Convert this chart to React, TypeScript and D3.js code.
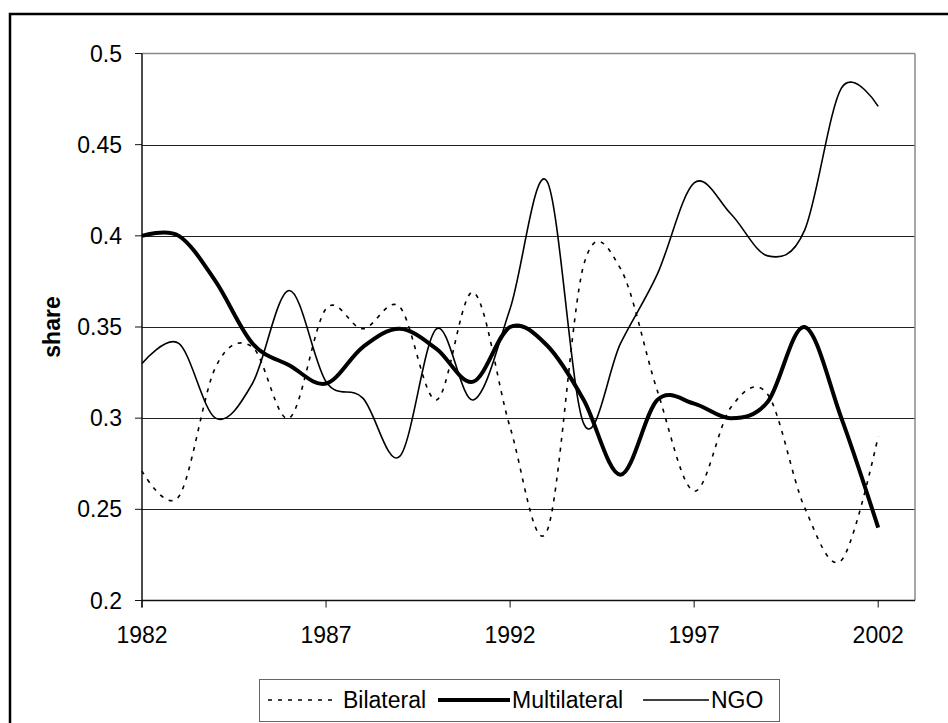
import React from "react";
import * as d3 from "d3";

const years = [
  1982, 1983, 1984, 1985, 1986, 1987, 1988, 1989, 1990, 1991, 1992, 1993,
  1994, 1995, 1996, 1997, 1998, 1999, 2000, 2001, 2002,
];
const bilateral = [
  0.271, 0.257, 0.328, 0.339, 0.3, 0.36, 0.349, 0.361, 0.31, 0.369, 0.295,
  0.238, 0.384, 0.382, 0.315, 0.26, 0.306, 0.313, 0.251, 0.222, 0.29,
];
const multilateral = [
  0.4, 0.4, 0.375, 0.341, 0.329, 0.319, 0.339, 0.349, 0.338, 0.32, 0.35,
  0.34, 0.31, 0.269, 0.31, 0.308, 0.3, 0.309, 0.35, 0.3, 0.24,
];
const ngo = [
  0.33, 0.341, 0.3, 0.319, 0.37, 0.32, 0.311, 0.279, 0.349, 0.31, 0.36, 0.43,
  0.297, 0.341, 0.379, 0.429, 0.412, 0.389, 0.403, 0.481, 0.471,
];
const xTicks = [1982, 1987, 1992, 1997, 2002];
const yTicks = [0.2, 0.25, 0.3, 0.35, 0.4, 0.45, 0.5];

const font = "'Liberation Sans', Arial, sans-serif";

const App: React.FC = () => {
  const width = 948;
  const height = 723;
  const left = 142;
  const right = 915;
  const top = 53.5;
  const bottom = 600.5;

  const x = d3.scaleLinear().domain([1982, 2003]).range([left, right]);
  const y = d3.scaleLinear().domain([0.2, 0.5]).range([bottom, top]);

  const line = d3
    .line<number>()
    .x((_, i) => x(years[i]))
    .y((d) => y(d))
    .curve(d3.curveCardinal.tension(0));

  const legendY = 700;

  return (
    <svg
      width={width}
      height={height}
      style={{ position: "absolute", left: 0, top: 0, background: "#fff" }}
      fontFamily={font}
    >
      {/* outer chart border */}
      <rect
        x={10}
        y={14}
        width={960}
        height={740}
        fill="none"
        stroke="#000"
        strokeWidth={2.5}
      />

      {/* gridlines */}
      {yTicks.slice(1, -1).map((t) => (
        <line
          key={"g" + t}
          x1={left}
          x2={right}
          y1={Math.round(y(t)) + 0.5}
          y2={Math.round(y(t)) + 0.5}
          stroke="#222"
          strokeWidth={1}
        />
      ))}
      {/* plot area border top/right */}
      <line x1={left} x2={right} y1={top} y2={top} stroke="#888" strokeWidth={1.5} />
      <line x1={right} x2={right} y1={top} y2={bottom} stroke="#888" strokeWidth={1.5} />

      {/* axes */}
      <line x1={left} x2={left} y1={top} y2={bottom + 7} stroke="#111" strokeWidth={1.5} />
      <line x1={left} x2={right} y1={bottom} y2={bottom} stroke="#111" strokeWidth={1.5} />
      {yTicks.map((t) => (
        <g key={"y" + t}>
          <line x1={left - 7} x2={left} y1={y(t)} y2={y(t)} stroke="#111" strokeWidth={1} />
          <text
            x={left - 20}
            y={y(t)}
            textAnchor="end"
            dominantBaseline="central"
            fontSize={23}
          >
            {String(t)}
          </text>
        </g>
      ))}
      {xTicks.map((t) => (
        <g key={"x" + t}>
          <line x1={x(t)} x2={x(t)} y1={bottom} y2={bottom + 7} stroke="#111" strokeWidth={1} />
          <text x={x(t)} y={643} textAnchor="middle" fontSize={23}>
            {t}
          </text>
        </g>
      ))}
      <text
        transform={`translate(60, ${(top + bottom) / 2}) rotate(-90)`}
        textAnchor="middle"
        fontSize={23}
        fontWeight="bold"
      >
        share
      </text>

      {/* series */}
      <path
        d={line(bilateral) || ""}
        fill="none"
        stroke="#000"
        strokeWidth={1.6}
        strokeDasharray="4,6"
      />
      <path d={line(multilateral) || ""} fill="none" stroke="#000" strokeWidth={4} />
      <path d={line(ngo) || ""} fill="none" stroke="#000" strokeWidth={1.6} />

      {/* legend */}
      <rect x={259.5} y={679.5} width={520} height={42} fill="#fff" stroke="#666" strokeWidth={1} />
      <line x1={268} x2={338} y1={legendY} y2={legendY} stroke="#000" strokeWidth={1.6} strokeDasharray="4,6" />
      <text x={343} y={legendY + 8} fontSize={23}>
        Bilateral
      </text>
      <line x1={438} x2={510} y1={legendY} y2={legendY} stroke="#000" strokeWidth={4} />
      <text x={512} y={legendY + 8} fontSize={23}>
        Multilateral
      </text>
      <line x1={643} x2={709} y1={legendY} y2={legendY} stroke="#000" strokeWidth={1.6} />
      <text x={711} y={legendY + 8} fontSize={23}>
        NGO
      </text>
    </svg>
  );
};

export default App;
